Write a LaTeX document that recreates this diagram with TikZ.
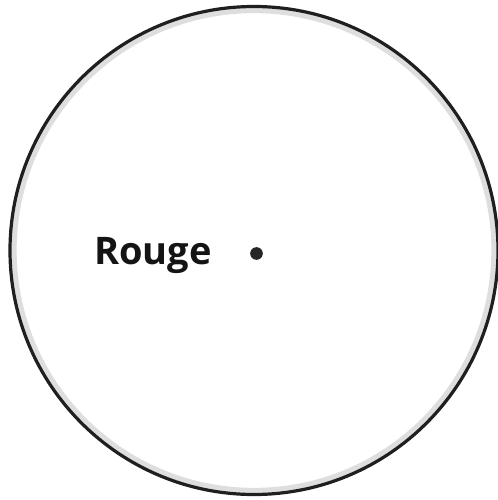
\documentclass[tikz,border=0pt]{standalone}
\usepackage{fontspec}
\setmainfont{Open Sans}
\usetikzlibrary{positioning}

\begin{document}
\begin{tikzpicture}[
		x=0.75pt, y=-0.75pt,
		rim/.style={
			draw=black!88,
			line width=2.4pt
		},
		halo/.style={
			draw=black!13,
			line width=4pt
		},
		namelabel/.style={
			font=\bfseries\fontsize{28.5}{31}\selectfont,
			text=black!92,
			inner sep=0pt
		},
		marker/.style={
			circle,
			fill=black!85,
			inner sep=0pt,
			minimum size=9.5pt
		}
		]
		
		\useasboundingbox (0,0) rectangle (498,500);
		
		\coordinate (centre) at (254,250.5);
		\draw[halo] (centre) circle[radius=240];
		\draw[rim] (centre) circle[radius=244];
		
		\node[namelabel, anchor=base west] (name) at (94,264) {Rouge};
		\node[marker] (dot) at (256.5,253.5) {};
		
	\end{tikzpicture}
\end{document}
